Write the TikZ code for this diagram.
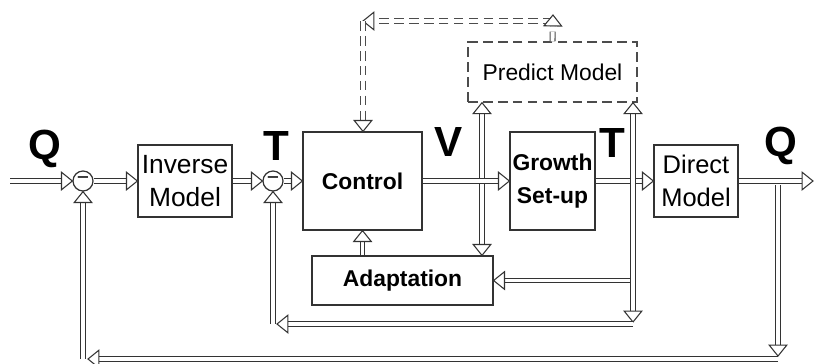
\documentclass[tikz,border=0pt]{standalone}
\usepackage{fontspec}
\setmainfont{Liberation Sans}
\usetikzlibrary{decorations.markings}

% hollow heads for the double-lined signals
\newcommand{\headfwd}{\filldraw[solid, line width=0.6pt, draw=black!80, fill=white, shorten >=0pt, shorten <=0pt, line join=miter] (0pt,0pt) -- (-6.2pt,5pt) -- (-6.2pt,-5pt) -- cycle;}
\newcommand{\headbwd}{\filldraw[solid, line width=0.6pt, draw=black!80, fill=white, shorten >=0pt, shorten <=0pt, line join=miter] (0pt,0pt) -- (6.2pt,5pt) -- (6.2pt,-5pt) -- cycle;}

\tikzset{
    block/.style={draw=black!80, line width=0.7pt, align=center, inner sep=0pt},
    sumpt/.style={circle, draw=black!80, line width=0.7pt, minimum size=0.4cm, inner sep=0pt, font=\fontsize{12}{12}\selectfont},
    sig/.style={font=\fontsize{24}{24}\selectfont\bfseries, inner sep=0pt},
    fat/.style={draw=black!80, double=white, double distance=2.2pt, line width=0.6pt},
    tip/.style={shorten >=5.5pt, postaction={decorate, decoration={markings, mark=at position 1 with {\headfwd}}}},
    tail/.style={shorten <=5.5pt, postaction={decorate, decoration={markings, mark=at position 0 with {\headbwd}}}},
    pred/.style={dash pattern=on 5.5pt off 3pt, draw=black!70},
}

\begin{document}
\begin{tikzpicture}[x=0.02cm, y=-0.02cm]
    \useasboundingbox (0,0) rectangle (815,363);

    % blocks
    \node[sumpt] (s1) at (83,181) {−};
    \node[block, minimum width=1.88cm, minimum height=1.44cm, font=\fontsize{15}{19}\selectfont] (inv) at (185,181) {Inverse\\Model};
    \node[sumpt] (s2) at (273,181) {−};
    \node[block, minimum width=2.38cm, minimum height=1.96cm, font=\fontsize{13}{19}\selectfont\bfseries] (ctl) at (362.5,181) {Control};
    \node[block, minimum width=1.7cm, minimum height=1.96cm, font=\fontsize{13}{19}\selectfont\bfseries] (grow) at (552.5,181) {Growth\\Set-up};
    \node[block, minimum width=1.68cm, minimum height=1.44cm, font=\fontsize{14.5}{19}\selectfont] (dir) at (696,181) {Direct\\Model};
    \node[block, minimum width=3.62cm, minimum height=0.98cm, font=\fontsize{13}{19}\selectfont\bfseries] (adapt) at (402.5,280.5) {Adaptation};
    \node[block, pred, line width=0.8pt, minimum width=3.38cm, minimum height=1.2cm, font=\fontsize{13}{19}\selectfont] (pm) at (552.5,72) {Predict Model};

    % signal names
    \node[sig] (q1) at (45,149) {Q};
    \node[sig] (t1) at (276,146) {T};
    \node[sig] (v) at (449,142) {V};
    \node[sig] (t2) at (612,143) {T};
    \node[sig] (q2) at (781,146) {Q};

    \coordinate (qin) at (10,181);
    \coordinate (qout) at (813,181);
    \coordinate (vj) at (482,181);
    \coordinate (tj) at (633,181);
    \coordinate (tb) at (633,322);
    \coordinate (tl) at (277,324);
    \coordinate (qj) at (778,185);
    \coordinate (qb) at (778,356);
    \coordinate (ql) at (88,359);
    \coordinate (pt) at (553,15);
    \coordinate (pl) at (363,21);

    % V goes both to the predictor and to the adaptation
    \draw[fat, tip, tail] (adapt.north -| vj) -- (pm.south -| vj);

    % forward path
    \draw[fat, tip] (qin) -- (s1);
    \draw[fat, tip] (s1) -- (inv);
    \draw[fat, tip] (inv) -- (s2);
    \draw[fat, tip] (s2) -- (ctl);
    \draw[fat, tip] (ctl) -- (grow);
    \draw[fat, tip] (grow) -- (dir);
    \draw[fat, tip] (dir) -- (qout);
    \draw[fat, tip] (adapt.north -| ctl.south) -- (ctl.south);

    % predictor loop (dashed)
    \draw[fat, pred, tip] (pt |- pl) -- (pl);
    \draw[fat, pred, tip] (pm.north) -- (pt);
    \draw[fat, pred, tip] (pl) -- (pl |- ctl.north);

    % T feedback
    \draw[fat, tip] (tj |- adapt.east) -- (adapt.east);
    \draw[fat, tip, tail] (tb) -- (tj |- pm.south);
    \draw[fat, tip] (tb |- tl) -- (tl);
    \draw[fat, tip] (tl -| s2) -- (s2);

    % Q feedback
    \draw[fat, tip] (qj) -- (qb);
    \draw[fat, tip] (qb |- ql) -- (ql);
    \draw[fat, tip] (ql -| s1) -- (s1);
\end{tikzpicture}
\end{document}
